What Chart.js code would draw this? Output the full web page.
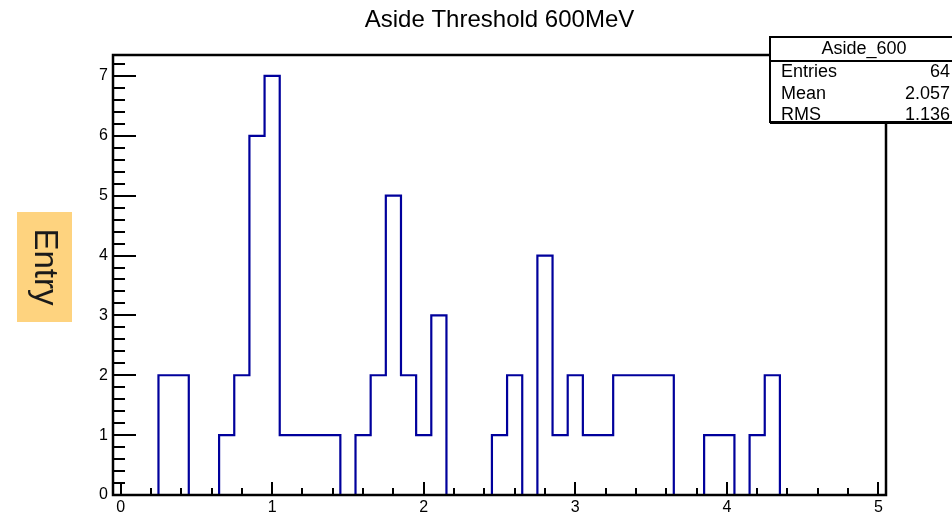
<!DOCTYPE html>
<html>
<head>
<meta charset="utf-8">
<title>Aside Threshold 600MeV</title>
<script src="https://cdn.jsdelivr.net/npm/chart.js@4.4.0/dist/chart.umd.min.js"></script>
<style>
  html, body { margin: 0; padding: 0; background: #fff; }
  #wrap { width: 952px; height: 515px; position: relative; }
</style>
</head>
<body>
<div id="wrap"><canvas id="histChart"></canvas></div>
<script>
// ------------------------------------------------------------
// histogram data (51 bins of 0.1, centred on 0.0 ... 5.0)
// ------------------------------------------------------------
const histTitle = "Aside Threshold 600MeV";
const yTitle = "Entry";
const binLow = -0.05;   // lower edge of first bin
const binWidth = 0.1;
const counts = [
  0, 0, 0, 2, 2, 0, 0, 1, 2, 6,   // 0.0 - 0.9
  7, 1, 1, 1, 1, 0, 1, 2, 5, 2,   // 1.0 - 1.9
  1, 3, 0, 0, 0, 1, 2, 0, 4, 1,   // 2.0 - 2.9
  2, 1, 1, 2, 2, 2, 2, 0, 0, 1,   // 3.0 - 3.9
  1, 0, 1, 2, 0, 0, 0, 0, 0, 0,   // 4.0 - 4.9
  0                               // 5.0
];
const xRange = [-0.05, 5.05];
const yRange = [0, 7.35];
const statsName = "Aside_600";
const statsLabels = ["Entries", "Mean", "RMS"];
const statsValues = ["64", "2.057", "1.136"];

const FONT = "'Liberation Sans', Arial, Helvetica, sans-serif";
const LINE_BLUE = "#00009c";

// outline points at the bin edges, drawn as a stepped line
const outline = counts.map((c, i) => ({ x: binLow + i * binWidth, y: c }));
outline.push({ x: binLow + counts.length * binWidth, y: counts[counts.length - 1] });

function isMultiple(v, step) {
  const r = v / step;
  return Math.abs(r - Math.round(r)) < 1e-6;
}

// ------------------------------------------------------------
// frame + inward ticks, ROOT style
// ------------------------------------------------------------
const frameTicks = {
  id: "frameTicks",
  afterDatasetsDraw(chart) {
    const { ctx, chartArea: a, scales } = chart;
    ctx.save();
    ctx.strokeStyle = "#000";
    ctx.lineWidth = 2;
    ctx.lineCap = "butt";

    scales.y.ticks.forEach((t) => {
      if (!isMultiple(t.value, 0.2)) return;
      const py = Math.round(scales.y.getPixelForValue(t.value));
      const len = isMultiple(t.value, 1) ? 23 : 12;
      ctx.beginPath();
      ctx.moveTo(a.left, py);
      ctx.lineTo(a.left + len, py);
      ctx.stroke();
    });

    scales.x.ticks.forEach((t) => {
      if (!isMultiple(t.value, 0.2)) return;
      const px = Math.round(scales.x.getPixelForValue(t.value));
      const len = isMultiple(t.value, 1) ? 13 : 7;
      ctx.beginPath();
      ctx.moveTo(px, a.bottom);
      ctx.lineTo(px, a.bottom - len);
      ctx.stroke();
    });

    ctx.lineWidth = 2.5;
    ctx.strokeRect(a.left, a.top, a.right - a.left, a.bottom - a.top);
    ctx.restore();
  },
};

// ------------------------------------------------------------
// stats box (top right) and the boxed y title
// ------------------------------------------------------------
const extras = {
  id: "extras",
  afterDraw(chart) {
    const { ctx } = chart;
    ctx.save();

    // stats box
    const bx = 770, by = 37, bw = 190, bh = 85;
    ctx.fillStyle = "#fff";
    ctx.fillRect(bx, by, bw, bh);
    ctx.strokeStyle = "#000";
    ctx.lineWidth = 2;
    ctx.strokeRect(bx, by, bw, bh);
    ctx.lineWidth = 3;
    ctx.beginPath();
    ctx.moveTo(bx, by + bh + 0.5);
    ctx.lineTo(bx + bw, by + bh + 0.5);
    ctx.stroke();
    ctx.lineWidth = 2;
    ctx.beginPath();
    ctx.moveTo(bx, by + 24);
    ctx.lineTo(bx + bw, by + 24);
    ctx.stroke();

    ctx.fillStyle = "#000";
    ctx.font = "18px " + FONT;
    ctx.textBaseline = "middle";
    ctx.textAlign = "center";
    ctx.fillText(statsName, 864, by + 12);
    statsLabels.forEach((lbl, i) => {
      const ty = 72.5 + i * 21.5;
      ctx.textAlign = "left";
      ctx.fillText(lbl, 781, ty);
      ctx.textAlign = "right";
      ctx.fillText(statsValues[i], 950, ty);
    });

    // y title on orange patch, reading top to bottom
    ctx.fillStyle = "#fed37f";
    ctx.fillRect(17, 212, 55, 110);
    ctx.translate(44.5, 267);
    ctx.rotate(Math.PI / 2);
    ctx.fillStyle = "#1a1a1a";
    ctx.font = "33px " + FONT;
    ctx.textAlign = "center";
    ctx.textBaseline = "middle";
    ctx.fillText(yTitle, 0, 0);

    ctx.restore();
  },
};

window.addEventListener("load", function () {
  const ctx = document.getElementById("histChart");

  new Chart(ctx, {
    type: "line",
    data: {
      datasets: [
        {
          label: statsName,
          data: outline,
          stepped: true,
          borderColor: LINE_BLUE,
          borderWidth: 2.2,
          pointRadius: 0,
          fill: false,
          tension: 0,
        },
      ],
    },
    options: {
      responsive: true,
      maintainAspectRatio: false,
      animation: false,
      layout: { padding: { left: 0, right: 66, top: 0, bottom: 0 } },
      plugins: {
        legend: { display: false },
        tooltip: { enabled: false },
        title: {
          display: true,
          text: histTitle,
          fullSize: false,
          color: "#000",
          font: { family: FONT, size: 24, weight: "normal" },
          padding: { top: 6, bottom: 20.2 },
        },
      },
      scales: {
        x: {
          type: "linear",
          min: xRange[0],
          max: xRange[1],
          grid: { display: false, drawTicks: false },
          border: { display: false },
          afterFit: (s) => { s.height = 20; },
          ticks: {
            stepSize: 0.2,
            includeBounds: false,
            autoSkip: false,
            maxRotation: 0,
            padding: 3,
            color: "#000",
            font: { family: FONT, size: 16 },
            callback: (v) => (isMultiple(v, 1) ? String(Math.round(v)) : ""),
          },
        },
        y: {
          min: yRange[0],
          max: yRange[1],
          grid: { display: false, drawTicks: false },
          border: { display: false },
          afterFit: (s) => { s.width = 113; },
          ticks: {
            stepSize: 0.2,
            includeBounds: false,
            autoSkip: false,
            padding: 5,
            color: "#000",
            font: { family: FONT, size: 16 },
            callback: (v) => (isMultiple(v, 1) ? String(Math.round(v)) : ""),
          },
        },
      },
    },
    plugins: [frameTicks, extras],
  });
});
</script>
</body>
</html>
